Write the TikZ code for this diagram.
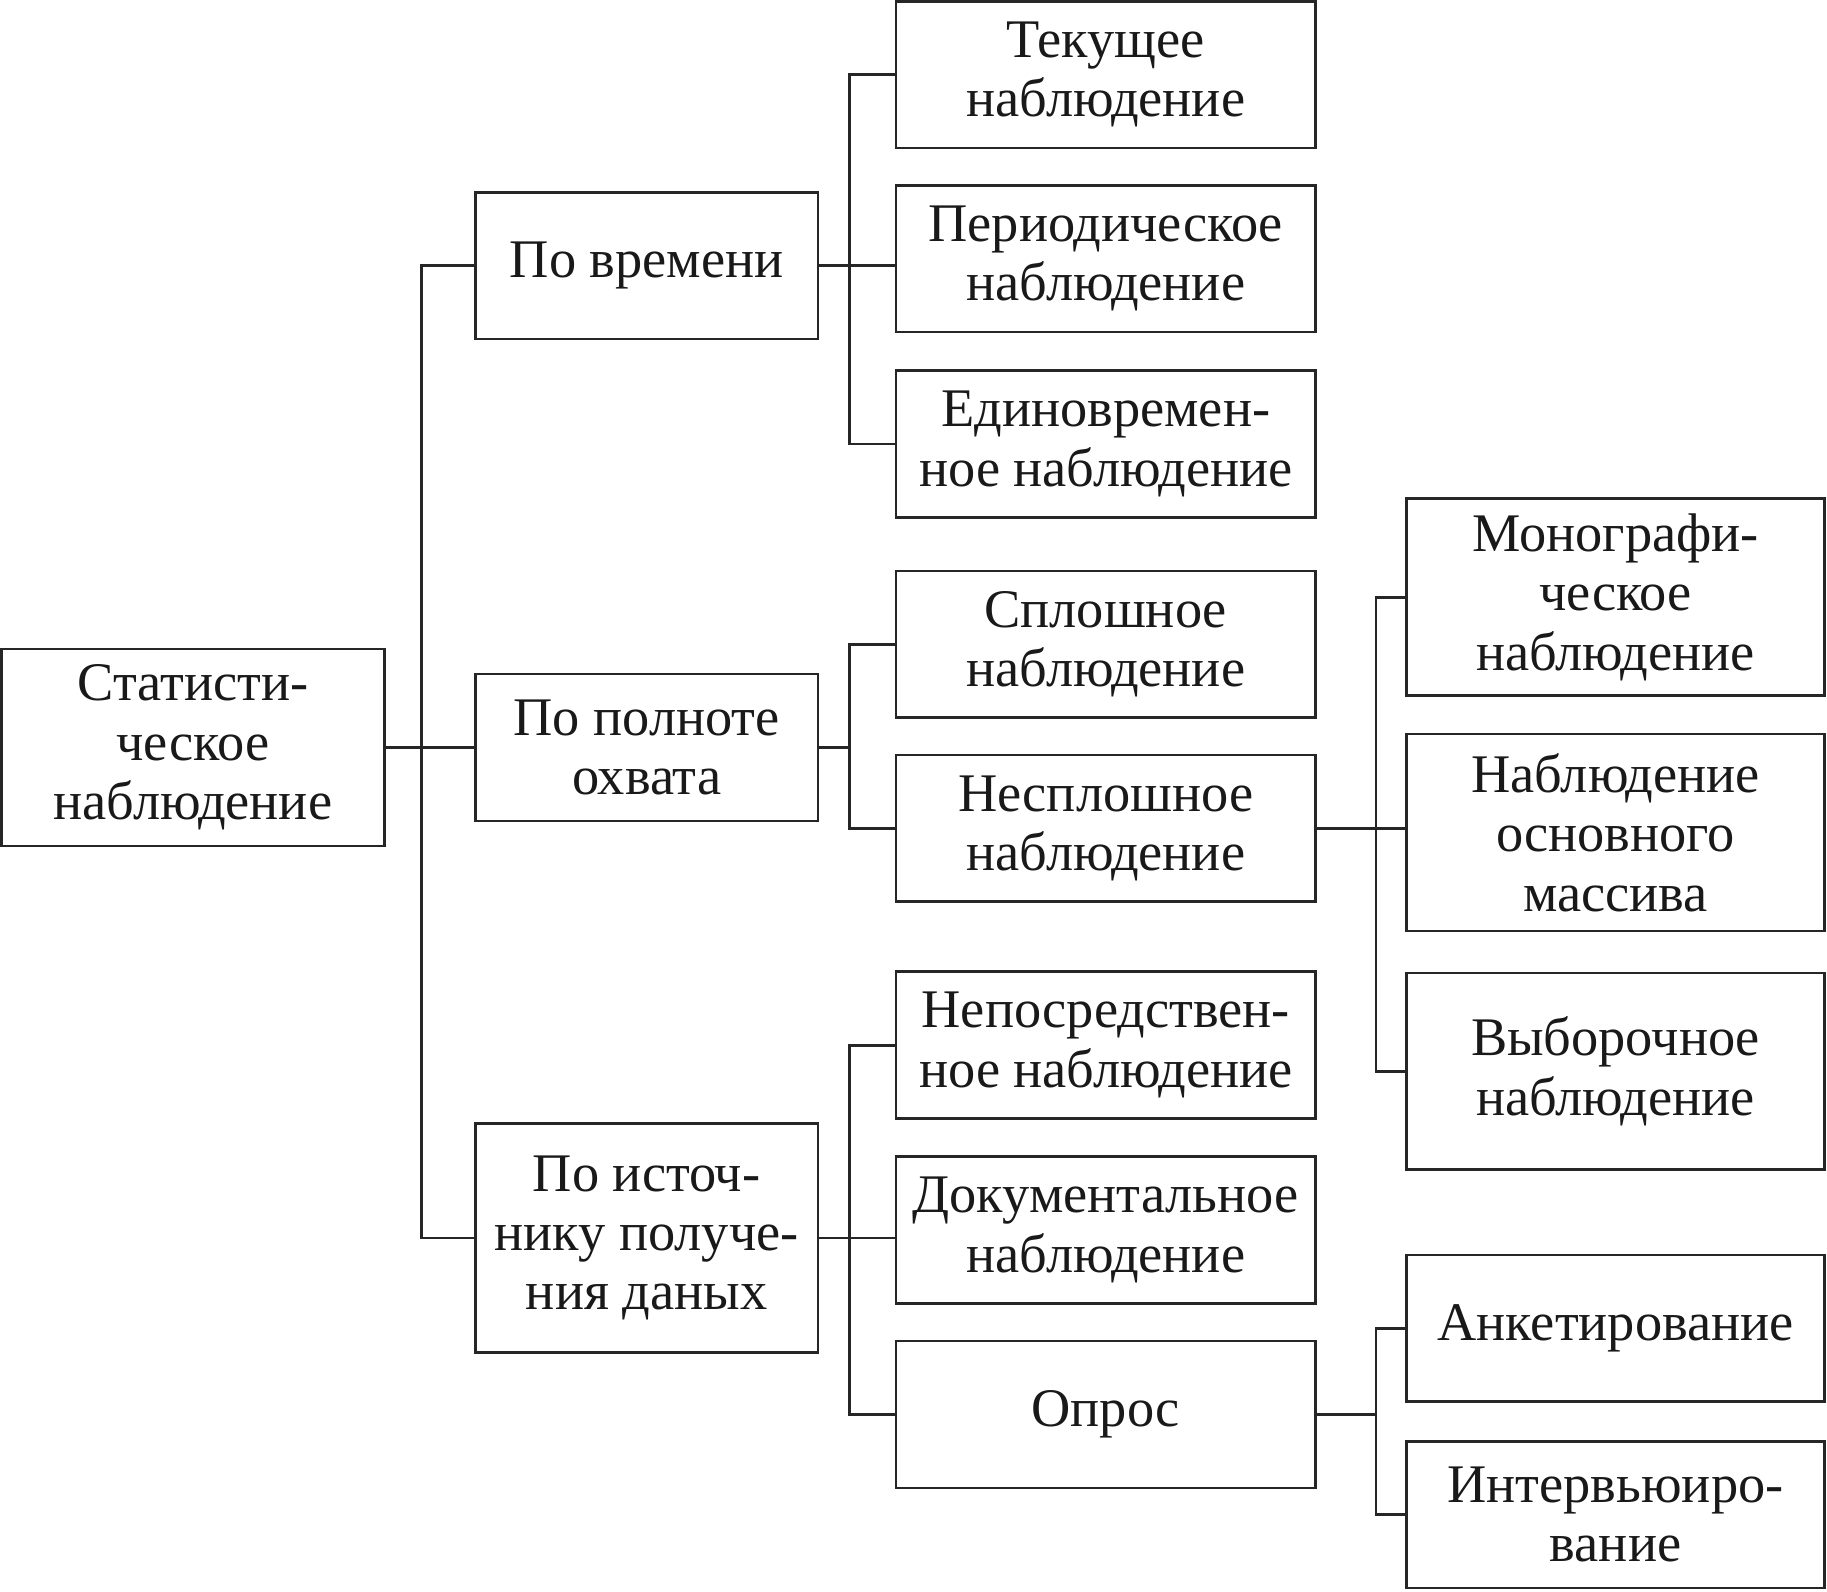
\documentclass[tikz,border=0pt]{standalone}
\usepackage{fontspec}
\setmainfont{Liberation Serif}
\usetikzlibrary{positioning}

\begin{document}
\begin{tikzpicture}[x=0.3pt, y=-0.3pt, line width=0.7pt, draw=black!85,
	box/.style={draw, align=center, inner sep=0pt, text=black!90, font=\fontsize{14}{15.3}\selectfont},
	root/.style={box, minimum width=98.7pt, minimum height=50.7pt},
	first/.style={box, minimum width=88.2pt, minimum height=37.8pt},
	second/.style={box, minimum width=108pt, minimum height=37.8pt},
	third/.style={box, minimum width=107.7pt, minimum height=50.7pt}]

	\useasboundingbox (0,0) rectangle (1568,1366);

		\node (0) [root] at (165.5,641.5) {Статисти-\\ческое\\наблюдение};

		\node (1) [first] at (555,228) {По времени};
		\node (2) [first] at (555,641.5) {По полноте\\охвата};
		\node (3) [first, minimum height=59.1pt] at (555,1062.5) {По источ-\\нику получе-\\ния даных};

		\node (4) [second] at (949,64) {Текущее\\наблюдение};
		\node (5) [second] at (949,222) {Периодическое\\наблюдение};
		\node (6) [second] at (949,381) {Единовремен-\\ное наблюдение};
		\node (7) [second] at (949,553) {Сплошное\\наблюдение};
		\node (8) [second] at (949,711) {Несплошное\\наблюдение};
		\node (9) [second] at (949,897) {Непосредствен-\\ное наблюдение};
		\node (10) [second] at (949,1055.5) {Документальное\\наблюдение};
		\node (11) [second] at (949,1214) {Опрос};

		\node (12) [third] at (1386.5,512.5) {Монографи-\\ческое\\наблюдение};
		\node (13) [third] at (1386.5,714.5) {Наблюдение\\основного\\массива};
		\node (14) [third] at (1386.5,919.5) {Выборочное\\наблюдение};
		\node (15) [third, minimum height=37.8pt] at (1386.5,1140) {Анкетирование};
		\node (16) [third, minimum height=37.8pt] at (1386.5,1300) {Интервьюиро-\\вание};

		% junctions
		\coordinate (t) at (362,641.5);
		\coordinate (a) at (729,228);
		\coordinate (b) at (729,641.5);
		\coordinate (c) at (729,1062.5);
		\coordinate (d) at (1181,711);
		\coordinate (e) at (1181,1214);

			\draw (0) -- (t);
			\draw (1.west) -| (t) |- (3.west);
			\draw (t) -- (2);

			\draw (1) -- (a) -- (a -| 5.west);
			\draw (4.west) -| (a) |- (6.west);

			\draw (2) -- (b);
			\draw (7.west) -| (b) |- (8.west);

			\draw (3) -- (c) -- (c -| 10.west);
			\draw (9.west) -| (c) |- (11.west);

			\draw (8) -- (d) -- (d -| 13.west);
			\draw (12.west) -| (d) |- (14.west);

			\draw (11) -- (e);
			\draw (15.west) -| (e) |- (16.west);

\end{tikzpicture}
\end{document}
